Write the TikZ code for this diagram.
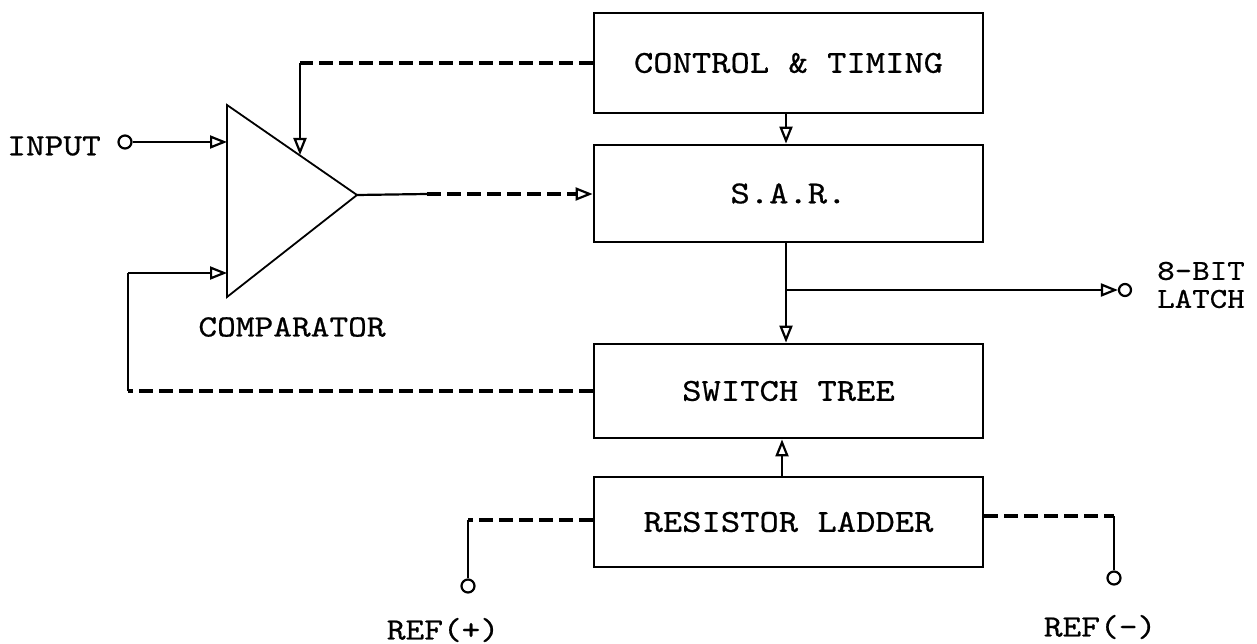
\documentclass[tikz,border=0pt]{standalone}
\usepackage{fontspec}
\setmonofont{lmmono10-regular}[Extension=.otf, FakeStretch=1.15, FakeBold=0.6]
\usetikzlibrary{arrows.meta}
\begin{document}
\begin{tikzpicture}[x=1pt,y=-1pt,
  every node/.style={font=\ttfamily\fontsize{32}{34}\selectfont},
  blk/.style={draw, line width=2.8pt, minimum width=389pt, inner sep=0pt},
  wire/.style={line width=2.2pt},
  dwire/.style={line width=3.4pt, dash pattern=on 14pt off 6pt},
  arr/.style={-{Triangle[open,length=17pt,width=13pt,line width=2.2pt]}},
  term/.style={circle, draw, line width=2.2pt, minimum size=13pt, inner sep=0pt},
  lbl/.style={font=\ttfamily\fontsize{31}{34}\selectfont},
]
\useasboundingbox (0,0) rectangle (1257,644);

% blocks
\node[blk, minimum height=100pt] (ctl) at (788.5,63) {CONTROL \& TIMING};
\node[blk, minimum height=97pt] (sar) at (788.5,193.5) {S.A.R.};
\node[blk, minimum height=94pt] (sw) at (788.5,391) {SWITCH TREE};
\node[blk, minimum height=90pt] (lad) at (788.5,522) {RESISTOR LADDER};

% comparator
\coordinate (cmpA) at (227,105);
\coordinate (cmpB) at (227,297);
\coordinate (cmpT) at (357,195);
\draw[line width=1.8pt] (cmpA) -- (cmpT) -- (cmpB) -- cycle;
\coordinate (in1) at (227,142);
\coordinate (in2) at (227,273);
\coordinate (in3) at (300,155);

% terminals
\node[term] (inp) at (125,142) {};
\node[term, minimum size=12pt] (latch) at (1125,290) {};
\node[term] (refp) at (468,586) {};
\node[term] (refm) at (1114,578) {};

% helper coordinates
\coordinate (c1) at (300,63);
\coordinate (o1) at (427,194);
\coordinate (xa) at (786,0);
\coordinate (xb) at (782,0);
\coordinate (br) at (786,290);
\coordinate (f1) at (128,391);
\coordinate (f2) at (128,273);
\coordinate (l1) at (468,520);
\coordinate (r1) at (1114,516);

% connectors
\draw[wire,arr] (inp) -- (in1);
\draw[dwire] (ctl.west) -- (c1);
\draw[wire,arr] (c1) -- (in3);
\draw[wire] (cmpT) -- (o1);
\draw[dwire,arr] (o1) -- (o1 -| sar.west);
\draw[wire,arr] (ctl.south -| xa) -- (sar.north -| xa);
\draw[wire,arr] (sar.south -| xa) -- (sw.north -| xa);
\draw[wire,arr] (br) -- (latch.west);
\draw[dwire] (sw.west) -- (f1);
\draw[wire] (f1) -- (f2);
\draw[wire,arr] (f2) -- (in2);
\draw[wire,arr] (lad.north -| xb) -- (sw.south -| xb);
\draw[dwire] (l1 -| lad.west) -- (l1);
\draw[wire] (l1) -- (refp.north);
\draw[dwire] (r1 -| lad.east) -- (r1);
\draw[wire] (r1) -- (refm.north);

% labels
\node[lbl] (tin) at (54,146) {INPUT};
\node[lbl] (tcmp) at (292,327) {COMPARATOR};
\node[anchor=west, align=left, inner sep=1pt, font=\ttfamily\fontsize{29}{28}\selectfont] (tlatch) at (1156,285) {8-BIT\\LATCH};
\node[lbl] (trp) at (443,630) {REF(+)};
\node[lbl] (trm) at (1100,627) {REF(-)};
\end{tikzpicture}
\end{document}
